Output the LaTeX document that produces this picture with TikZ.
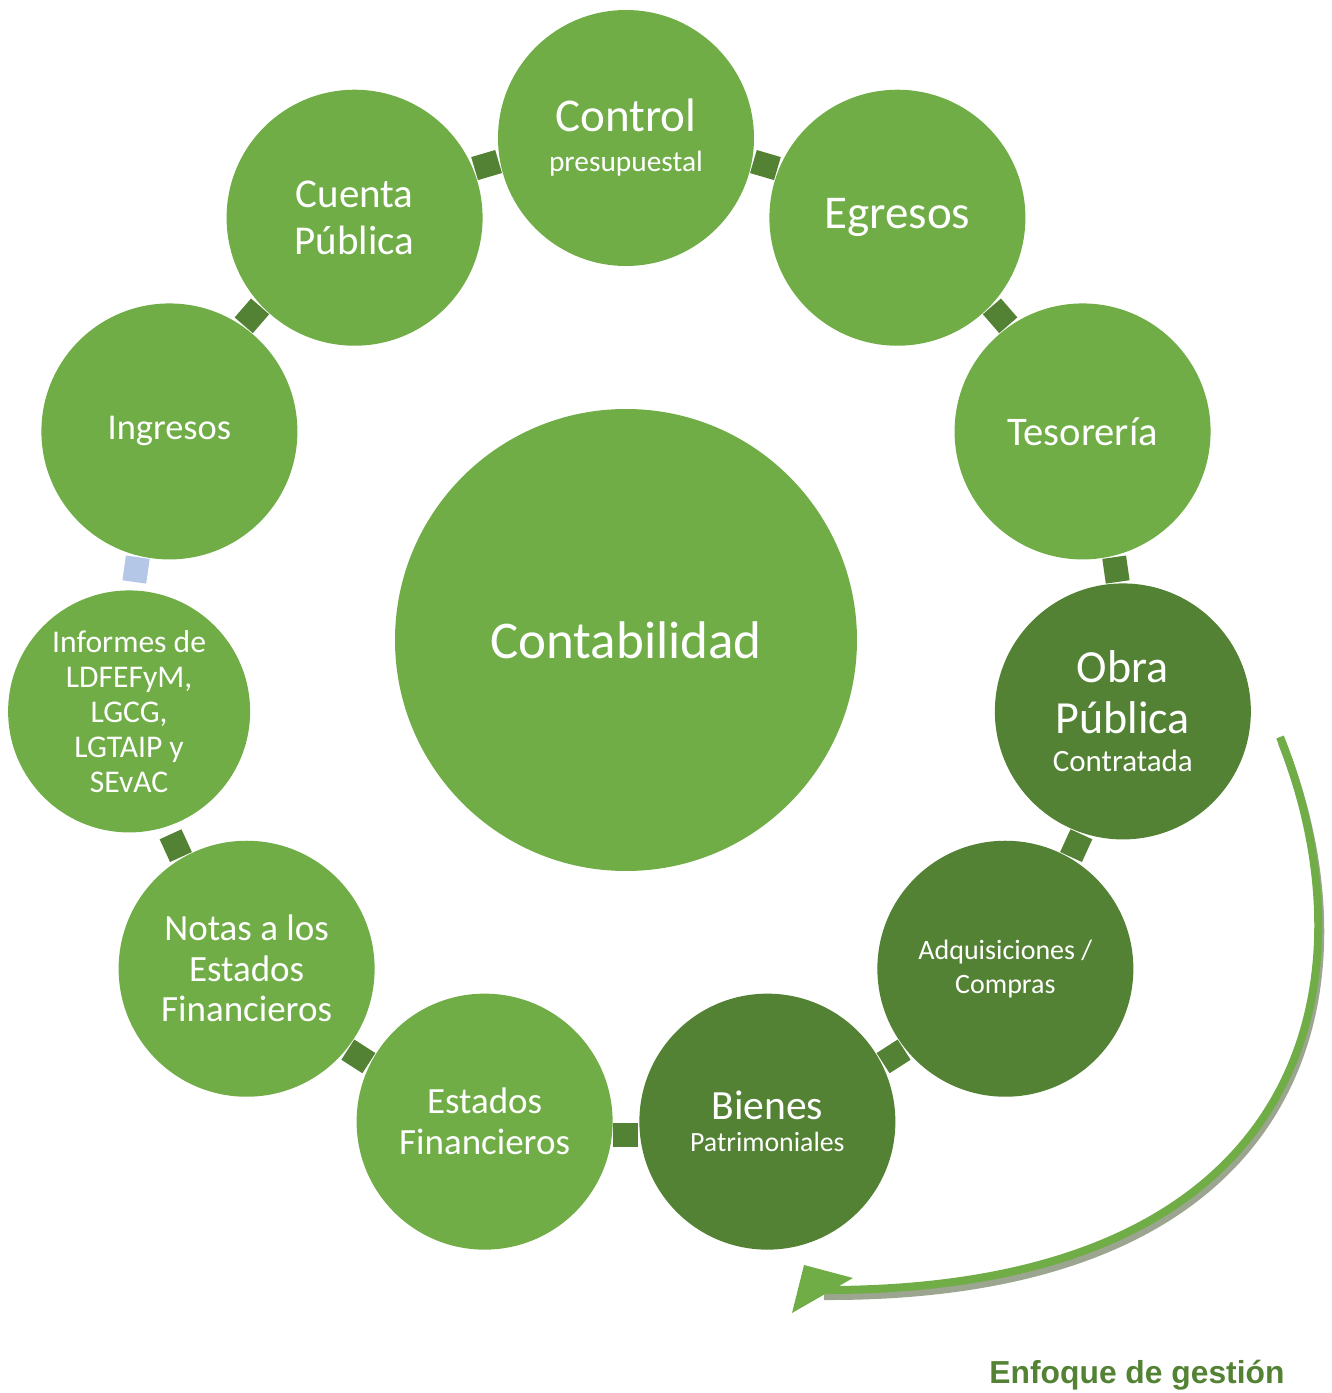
\documentclass[tikz,border=0pt]{standalone}
\usepackage{fontspec}
\setmainfont{Carlito}
\newfontfamily\arialfont{Liberation Sans}
\usetikzlibrary{positioning}

\definecolor{leafgreen}{HTML}{70AD47}
\definecolor{darkleaf}{HTML}{548235}
\definecolor{linkblue}{HTML}{B4C7E7}
\definecolor{shadowgray}{HTML}{9CA58F}

\begin{document}
\begin{tikzpicture}[x=0.5pt,y=0.5pt]
	\tikzstyle{unit} = [circle,fill=leafgreen,text=white,inner sep=0pt,minimum size=128pt,align=center]
	\tikzstyle{dunit} = [unit,fill=darkleaf]
	\tikzstyle{link} = [rectangle,fill=darkleaf,inner sep=0pt,minimum width=12pt,minimum height=12.5pt]

		\useasboundingbox (-626,-753) rectangle (706,640);

		\node[unit,minimum size=231pt,font=\fontsize{26.5}{32}\selectfont] (core) at (0,0) {Contabilidad};

		\node[unit,font=\fontsize{23.5}{20}\selectfont] (u1) at ([shift={(90:502)}]core) {Control\\{\fontsize{14.7}{20}\selectfont presupuestal}};
		\node[unit,font=\fontsize{23.5}{28}\selectfont] (u2) at ([shift={(57.27:502)}]core) {Egresos};
		\node[unit,font=\fontsize{20.3}{24}\selectfont] (u3) at ([shift={(24.55:502)}]core) {Tesorería};
		\node[dunit,font=\fontsize{23}{25.5}\selectfont] (u4) at ([shift={(-8.18:502)}]core) {Obra\\Pública\\[-6.5pt]{\fontsize{15.5}{19}\selectfont Contratada}};
		\node[dunit,font=\fontsize{14}{17}\selectfont] (u5) at ([shift={(-40.91:502)}]core) {Adquisiciones /\\Compras};
		\node[dunit,font=\fontsize{20.8}{16}\selectfont] (u6) at ([shift={(-73.64:502)}]core) {Bienes\\{\fontsize{13.9}{16}\selectfont Patrimoniales}};
		\node[unit,font=\fontsize{18.5}{20.5}\selectfont] (u7) at ([shift={(-106.36:502)}]core) {Estados\\Financieros};
		\node[unit,font=\fontsize{18.5}{20.25}\selectfont] (u8) at ([shift={(-139.09:502)}]core) {Notas a los\\Estados\\Financieros};
		\node[unit,minimum size=121pt,font=\fontsize{15.8}{17.5}\selectfont] (u9) at ([shift={(-171.82:502)}]core) {Informes de\\LDFEFyM,\\LGCG,\\LGTAIP y\\SEvAC};
		\node[unit,font=\fontsize{18.2}{22}\selectfont] (u10) at ([shift={(155.45:502)}]core) {Ingresos};
		\node[unit,font=\fontsize{20.5}{23.5}\selectfont] (u11) at ([shift={(122.73:502)}]core) {Cuenta\\Pública};

		% small joints between the circles
		\node[link,rotate=106.36] (l1) at ([shift={(106.36:495)}]core) {};
		\node[link,rotate=139.09] (l2) at ([shift={(139.09:495)}]core) {};
		\node[link,rotate=171.82,fill=linkblue] (l3) at ([shift={(171.82:495)}]core) {};
		\node[link,rotate=204.55] (l4) at ([shift={(204.55:495)}]core) {};
		\node[link,rotate=237.27] (l5) at ([shift={(237.27:495)}]core) {};
		\node[link,rotate=270] (l6) at ([shift={(270:495)}]core) {};
		\node[link,rotate=302.73] (l7) at ([shift={(302.73:495)}]core) {};
		\node[link,rotate=335.45] (l8) at ([shift={(335.45:495)}]core) {};
		\node[link,rotate=8.18] (l9) at ([shift={(8.18:495)}]core) {};
		\node[link,rotate=40.91] (l10) at ([shift={(40.91:495)}]core) {};
		\node[link,rotate=73.64] (l11) at ([shift={(73.64:495)}]core) {};

		% curved arrow
		\coordinate (a0) at (654,-97);
		\coordinate (a1) at (196,-650);
		\coordinate (tip) at (166,-673);
		\coordinate (w1) at (178,-625);
		\coordinate (w2) at (227,-638);
		\draw[shadowgray,line width=4pt] ([shift={(2,-6)}]a0) .. controls ([shift={(2,-6)}]751,-340) and ([shift={(2,-6)}]686,-652) .. ([shift={(2,-6)}]a1);
		\draw[leafgreen,line width=4pt] (a0) .. controls (751,-340) and (686,-652) .. (a1);
		\fill[leafgreen] (tip) -- (w1) -- (w2) -- cycle;

		\node[font=\arialfont\bfseries\fontsize{15.9}{19}\selectfont,text=darkleaf] (goal) at (511,-735) {Enfoque de gestión};
\end{tikzpicture}
\end{document}
